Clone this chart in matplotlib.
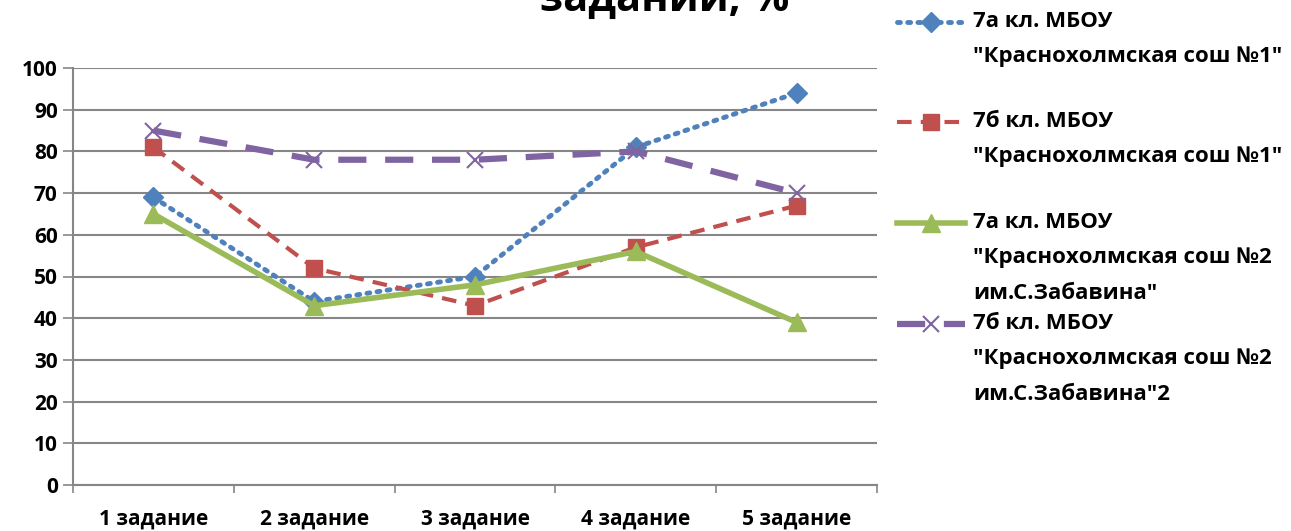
import matplotlib
matplotlib.use('Agg')
import matplotlib.pyplot as plt
from matplotlib.lines import Line2D

plt.rcParams['font.family'] = ['Open Sans', 'DejaVu Sans']
plt.rcParams['font.weight'] = 'bold'

# data
tasks = ['1 задание', '2 задание', '3 задание', '4 задание', '5 задание']
s_7a_1 = [69, 44, 50, 81, 94]
s_7b_1 = [81, 52, 43, 57, 67]
s_7a_2 = [65, 43, 48, 56, 39]
s_7b_2 = [85, 78, 78, 80, 70]
names = ['7а кл. МБОУ\n"Краснохолмская сош №1"',
         '7б кл. МБОУ\n"Краснохолмская сош №1"',
         '7а кл. МБОУ\n"Краснохолмская сош №2\nим.С.Забавина"',
         '7б кл. МБОУ\n"Краснохолмская сош №2\nим.С.Забавина"2']
y_ticks = list(range(0, 101, 10))

# Excel-ish styles
styles = [
    dict(color='#4F81BD', ls=(0, (0.6, 1.5)), lw=3.5, marker='D', ms=10, dash_capstyle='round'),
    dict(color='#C0504D', ls=(0, (3.5, 2.2)), lw=3, marker='s', ms=12),
    dict(color='#9BBB59', ls='-', lw=4, marker='^', ms=13),
    dict(color='#8064A2', ls=(0, (4.5, 3)), lw=4.5, marker='x', ms=12, mew=1.5),
]
series = [s_7a_1, s_7b_1, s_7a_2, s_7b_2]

fig = plt.figure(figsize=(12.91, 5.31), dpi=100)
ax = fig.add_axes([73 / 1291, 1 - 485 / 531, (877 - 73) / 1291, (485 - 68) / 531])

x = range(len(tasks))
for vals, st in zip(series, styles):
    ax.plot(x, vals, color=st['color'], linestyle=st['ls'], linewidth=st['lw'],
            marker=st['marker'], markersize=st['ms'], markeredgewidth=st.get('mew', 1),
            markerfacecolor=st['color'], markeredgecolor=st['color'],
            dash_capstyle=st.get('dash_capstyle', 'butt'), zorder=3)

ax.set_xlim(-0.5, len(tasks) - 0.5)
ax.set_ylim(0, 100)
ax.set_yticks(y_ticks)
ax.set_yticklabels([str(v) for v in y_ticks], fontsize=15, fontweight='bold')
ax.yaxis.grid(True, color='#868686', linewidth=1.5)
ax.set_axisbelow(True)

# separators between categories as major ticks, labels on minor ticks
ax.set_xticks([i - 0.5 for i in range(len(tasks) + 1)])
ax.set_xticklabels([])
ax.set_xticks(list(x), minor=True)
ax.set_xticklabels(tasks, minor=True, fontsize=15, fontweight='bold')
ax.tick_params(axis='x', which='minor', length=0, pad=17)
ax.tick_params(axis='x', which='major', length=6, width=1.2, color='#868686')
ax.tick_params(axis='y', length=7, width=1.2, color='#868686', pad=4)

for side in ['top', 'right']:
    ax.spines[side].set_visible(False)
for side in ['left', 'bottom']:
    ax.spines[side].set_color('#868686')
    ax.spines[side].set_linewidth(1.5)

# title, partly cut off at the top as in the original
fig.text(665 / 1291, 1 - 11 / 531, 'задании, %', ha='center', va='baseline',
         fontsize=30, fontweight='bold')

# manual legend (Excel puts marker on the first text line)
leg_y = [22, 122, 223, 324]
for name, st, ly in zip(names, styles, leg_y):
    yf = 1 - ly / 531
    fig.add_artist(Line2D([897 / 1291, 965 / 1291], [yf, yf], transform=fig.transFigure,
                          color=st['color'], linestyle=st['ls'], linewidth=st['lw'],
                          dash_capstyle=st.get('dash_capstyle', 'butt')))
    fig.add_artist(Line2D([931 / 1291], [yf], transform=fig.transFigure,
                          color=st['color'], marker=st['marker'], markersize=st['ms'],
                          markeredgewidth=st.get('mew', 1), linestyle='none'))
    fig.text(973 / 1291, yf + 11 / 531, name, ha='left', va='top', fontsize=16,
             fontweight='bold', linespacing=1.9)

fig.savefig('out.png', dpi=100)
